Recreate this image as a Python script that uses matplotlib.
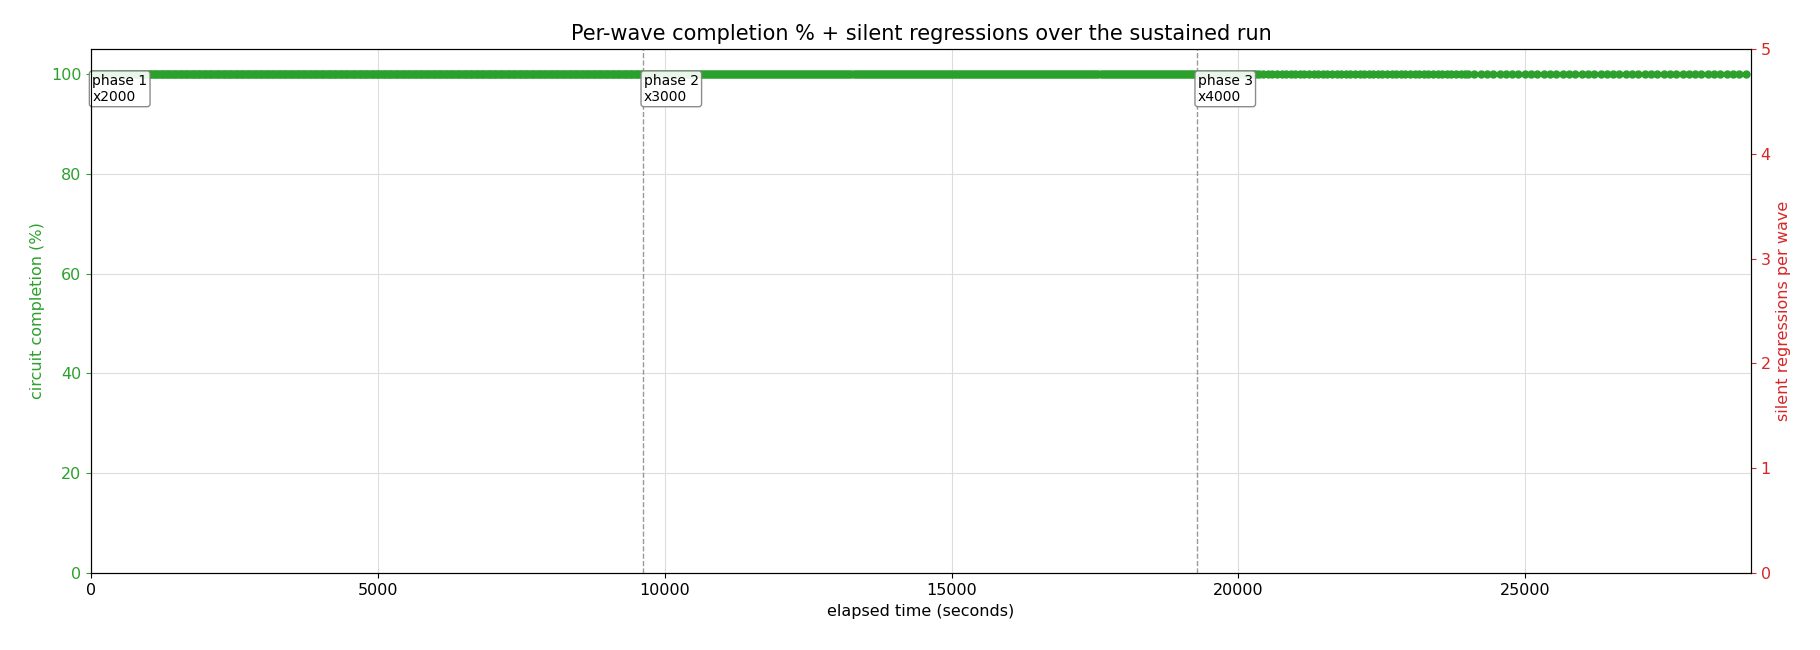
import matplotlib.pyplot as plt
import numpy as np

plt.rcParams["font.size"] = 11.5

# phase start times (s), labels, and wave spacing per segment
PHASE_STARTS = [0, 9615, 19270]
PHASE_LABELS = ["phase 1\nx2000", "phase 2\nx3000", "phase 3\nx4000"]
SEGMENTS = [(0, 9615, 30),
            (9615, 19270, 35),
            (19270, 20350, 40),
            (20350, 24000, 80),
            (24000, 28850, 110)]
COMPLETION = 100.0
REGRESSIONS = 0

wave_t = np.concatenate([np.arange(a, b, s) for a, b, s in SEGMENTS])
completion = np.full(wave_t.shape, COMPLETION)

fig, ax = plt.subplots(figsize=(18.2, 6.5), dpi=100)
fig.subplots_adjust(left=0.05, right=0.962, top=0.925, bottom=0.118)

ax.plot(wave_t, completion, "o", color="#2ca02c", markersize=5)
ax.set_ylim(0, 105)
ax.set_xlim(0, 28930)
ax.grid(True, color="#dddddd", linewidth=0.8)
ax.set_xlabel("elapsed time (seconds)")
ax.set_ylabel("circuit completion (%)", color="#2ca02c")
ax.tick_params(axis="y", colors="#2ca02c")
ax.set_title("Per-wave completion % + silent regressions over the sustained run",
             fontsize=15)

for t, lab in zip(PHASE_STARTS, PHASE_LABELS):
    if t > 0:
        ax.axvline(t, color="gray", linestyle="--", linewidth=1, alpha=0.8)
    ax.text(t + 20, 100, lab, fontsize=10, va="top", ha="left",
            bbox=dict(boxstyle="round,pad=0.2", fc="white", ec="gray", alpha=0.9))

ax2 = ax.twinx()
ax2.set_ylim(0, 5)
ax2.set_ylabel("silent regressions per wave", color="#d62728")
ax2.tick_params(axis="y", colors="#d62728")

fig.savefig("out.png")
